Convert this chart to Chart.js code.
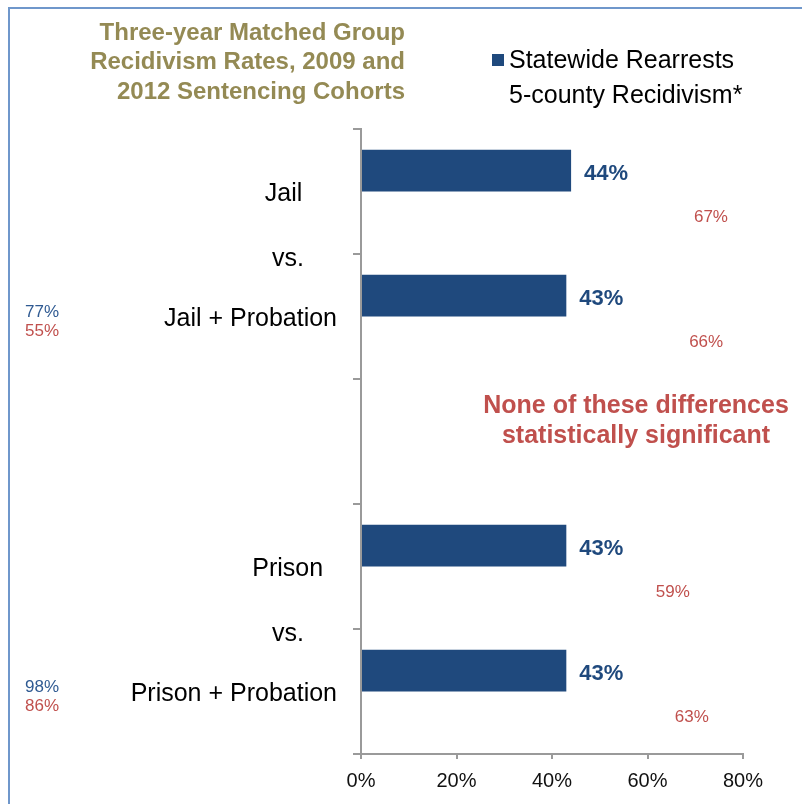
<!DOCTYPE html>
<html><head><meta charset="utf-8">
<script src="https://cdn.jsdelivr.net/npm/chart.js@4/dist/chart.umd.min.js"></script>
<style>html,body{margin:0;padding:0;background:#fff;overflow:hidden}#wrap{position:relative;width:802px;height:804px}canvas{display:block}</style>
</head><body><div id="wrap"><canvas id="c" width="802" height="804"></canvas></div>
<script>
const categories = ["Jail     ", "Jail + Probation", "", "Prison  ", "Prison + Probation"];
const statewideRearrests = [44, 43, null, 43, 43];
const countyRecidivism = [67, 66, null, 59, 63];
const seriesNames = ["Statewide Rearrests", "5-county Recidivism*"];
const xTicks = [0, 20, 40, 60, 80];
const sideBlue = [null, 77, null, null, 98];
const sideRed = [null, 55, null, null, 86];
const titleLines = ["Three-year Matched Group", "Recidivism Rates, 2009 and", "2012 Sentencing Cohorts"];
const noteLines = ["None of these differences", "statistically significant"];
const separatorText = "vs.";

const FONT = "'Liberation Sans', Arial, sans-serif";
const BLUE = '#1F497D';
const RED = '#C0504D';
const OLIVE = '#948A54';

const decor = {
  id: 'decor',
  beforeDraw(chart) {
    const ctx = chart.ctx;
    ctx.save();
    ctx.fillStyle = '#fff';
    ctx.fillRect(0, 0, chart.width, chart.height);
    ctx.strokeStyle = '#6F97CB';
    ctx.lineWidth = 2;
    ctx.beginPath();
    ctx.moveTo(9, chart.height + 5);
    ctx.lineTo(9, 8);
    ctx.lineTo(chart.width + 5, 8);
    ctx.stroke();
    ctx.restore();
  },
  afterDraw(chart) {
    const ctx = chart.ctx;
    const y = chart.scales.y;
    ctx.save();
    // title
    ctx.fillStyle = OLIVE;
    ctx.font = "bold 24px " + FONT;
    ctx.textAlign = 'right';
    ctx.textBaseline = 'middle';
    titleLines.forEach((t, i) => ctx.fillText(t, 405, 33 + i * 29.5));
    // legend
    const ds = chart.data.datasets;
    ctx.font = "25px " + FONT;
    ctx.textAlign = 'left';
    ctx.fillStyle = ds[0].backgroundColor;
    ctx.fillRect(492, 54, 12, 12);
    ctx.fillStyle = '#000';
    ctx.fillText(ds[0].label, 509, 61);
    ctx.fillText(ds[1].label, 509, 96);
    // note
    ctx.fillStyle = RED;
    ctx.font = "bold 25px " + FONT;
    ctx.textAlign = 'center';
    noteLines.forEach((t, i) => ctx.fillText(t, 636, 406 + i * 30));
    // separators
    ctx.fillStyle = '#000';
    ctx.font = "25px " + FONT;
    [[0, 1], [3, 4]].forEach(([a, b]) => {
      const yy = (y.getPixelForValue(a) + y.getPixelForValue(b)) / 2;
      ctx.fillText(separatorText, 288, yy + 5);
    });
    // side values
    ctx.font = "17px " + FONT;
    ctx.textAlign = 'left';
    categories.forEach((c, i) => {
      const cy = y.getPixelForValue(i);
      if (sideBlue[i] != null) { ctx.fillStyle = '#2F5A92'; ctx.fillText(sideBlue[i] + '%', 25, cy - 4); }
      if (sideRed[i] != null) { ctx.fillStyle = RED; ctx.fillText(sideRed[i] + '%', 25, cy + 15); }
    });
    // data labels
    const m0 = chart.getDatasetMeta(0), m1 = chart.getDatasetMeta(1);
    ctx.textBaseline = 'middle';
    m0.data.forEach((el, i) => {
      const v = ds[0].data[i];
      if (v == null) return;
      ctx.fillStyle = BLUE;
      ctx.font = "bold 22px " + FONT;
      ctx.fillText(v + '%', el.x + 13, el.y + 3);
    });
    m1.data.forEach((el, i) => {
      const v = ds[1].data[i];
      if (v == null) return;
      ctx.fillStyle = RED;
      ctx.font = "17px " + FONT;
      ctx.fillText(v + '%', el.x + 13, el.y + 5);
    });
    ctx.restore();
  }
};

new Chart(document.getElementById('c'), {
  type: 'bar',
  data: {
    labels: categories,
    datasets: [
      { label: seriesNames[0], data: statewideRearrests, backgroundColor: BLUE, borderWidth: 0 },
      { label: seriesNames[1], data: countyRecidivism, backgroundColor: 'rgba(0,0,0,0)', borderWidth: 0 }
    ]
  },
  options: {
    indexAxis: 'y',
    responsive: false,
    animation: false,
    devicePixelRatio: 1,
    layout: { padding: { top: 129, right: 59, bottom: 0, left: 0 } },
    datasets: { bar: { categoryPercentage: 0.667, barPercentage: 1.0 } },
    plugins: { legend: { display: false }, title: { display: false }, tooltip: { enabled: false } },
    scales: {
      x: {
        min: 0, max: 80,
        afterBuildTicks(s) { s.ticks = xTicks.map(v => ({ value: v })); },
        afterFit(s) { s.height = 50; },
        grid: { drawOnChartArea: false, drawTicks: true, tickLength: 5, color: '#9a9a9a', lineWidth: 2 },
        border: { display: true, color: '#9a9a9a', width: 2 },
        ticks: { padding: 10, color: '#111', font: { family: FONT, size: 20 }, callback: v => v + '%' }
      },
      y: {
        offset: true,
        afterFit(s) { s.width = 361; },
        grid: { offset: true, drawOnChartArea: false, drawTicks: true, tickLength: 8, color: '#9a9a9a', lineWidth: 2 },
        border: { display: true, color: '#9a9a9a', width: 2 },
        ticks: { padding: 16, labelOffset: 3, color: '#000', font: { family: FONT, size: 25 }, autoSkip: false }
      }
    }
  },
  plugins: [decor]
});
</script>
</body></html>
